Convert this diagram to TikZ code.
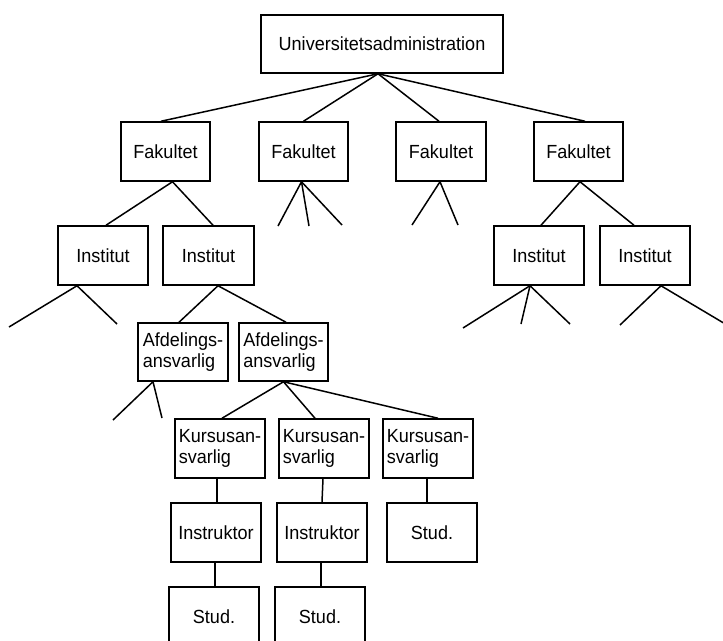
\documentclass[tikz,border=0pt]{standalone}
\usepackage{fontspec}
\setmainfont{Liberation Sans}[FakeStretch=0.95]
\begin{document}
\begin{tikzpicture}[x=1pt,y=-1pt,
  box/.style={draw=black, line width=1.5pt, minimum width=90pt, minimum height=59pt,
    inner sep=0pt, font=\fontsize{19}{21}\selectfont, align=left},
  conn/.style={draw=black, line width=1.5pt}]
\useasboundingbox (0,0) rectangle (723,640);
% nodes
\node[box, minimum width=242pt, minimum height=58pt] (U) at (382,44) {Universitetsadministration};
\node[box, minimum width=89pt] (F1) at (165.5,151.5) {Fakultet};
\node[box, minimum width=89pt] (F2) at (303.5,151.5) {Fakultet};
\node[box] (F3) at (441,151.5) {Fakultet};
\node[box, minimum width=89pt] (F4) at (578.5,151.5) {Fakultet};
\node[box] (I1) at (103,255.5) {Institut};
\node[box, minimum width=91pt] (I2) at (208.5,255.5) {Institut};
\node[box] (I3) at (539,255.5) {Institut};
\node[box] (I4) at (645,255.5) {Institut};
\node[box, minimum height=58pt] (A1) at (183,352) {Afdelings-\\ansvarlig};
\node[box, minimum width=89pt, minimum height=58pt] (A2) at (283.5,352) {Afdelings-\\ansvarlig};
\node[box] (K1) at (220,448.5) {Kursusan-\\svarlig};
\node[box] (K2) at (324,448.5) {Kursusan-\\svarlig};
\node[box] (K3) at (428,448.5) {Kursusan-\\svarlig};
\node[box] (In1) at (216,532.5) {Instruktor};
\node[box] (In2) at (322,532.5) {Instruktor};
\node[box] (S3) at (432,532.5) {Stud.};
\node[box] (S1) at (214,616.5) {Stud.};
\node[box] (S2) at (320,616.5) {Stud.};
% free ends
\coordinate (f2a) at (278,226);
\coordinate (f2b) at (309,226);
\coordinate (f2c) at (342,225);
\coordinate (f3a) at (412,225);
\coordinate (f3b) at (458,225);
\coordinate (i1a) at (9,327);
\coordinate (i1b) at (117,324);
\coordinate (i3a) at (463,328);
\coordinate (i3b) at (521,324);
\coordinate (i3c) at (570,324);
\coordinate (i4a) at (620,325);
\coordinate (i4b) at (727,325);
\coordinate (a1a) at (113,420);
\coordinate (a1b) at (162,418);
% connectors
\path[conn] ([xshift=-4pt]U.south) -- ([xshift=-4.5pt]F1.north);
\path[conn] ([xshift=-4pt]U.south) -- (F2.north);
\path[conn] ([xshift=-4pt]U.south) -- ([xshift=-2pt]F3.north);
\path[conn] ([xshift=-4pt]U.south) -- ([xshift=6.5pt]F4.north);
\path[conn] ([xshift=7pt]F1.south) -- ([xshift=3pt]I1.north);
\path[conn] ([xshift=7pt]F1.south) -- ([xshift=4.5pt]I2.north);
\path[conn] ([xshift=-2pt]F2.south) -- (f2a);
\path[conn] ([xshift=-2pt]F2.south) -- (f2b);
\path[conn] ([xshift=-2pt]F2.south) -- (f2c);
\path[conn] ([xshift=-1pt]F3.south) -- (f3a);
\path[conn] ([xshift=-1pt]F3.south) -- (f3b);
\path[conn] ([xshift=1.5pt]F4.south) -- ([xshift=2pt]I3.north);
\path[conn] ([xshift=1.5pt]F4.south) -- ([xshift=-11pt]I4.north);
\path[conn] ([xshift=-26pt]I1.south) -- (i1a);
\path[conn] ([xshift=-26pt]I1.south) -- (i1b);
\path[conn] ([xshift=9.5pt]I2.south) -- ([xshift=-4pt]A1.north);
\path[conn] ([xshift=9.5pt]I2.south) -- ([xshift=2.5pt]A2.north);
\path[conn] ([xshift=-9pt]I3.south) -- (i3a);
\path[conn] ([xshift=-9pt]I3.south) -- (i3b);
\path[conn] ([xshift=-9pt]I3.south) -- (i3c);
\path[conn] ([xshift=16pt]I4.south) -- (i4a);
\path[conn] ([xshift=16pt]I4.south) -- (i4b);
\path[conn] ([xshift=-30pt]A1.south) -- (a1a);
\path[conn] ([xshift=-30pt]A1.south) -- (a1b);
\path[conn] (A2.south) -- ([xshift=2pt]K1.north);
\path[conn] (A2.south) -- ([xshift=-9pt]K2.north);
\path[conn] (A2.south) -- ([xshift=10pt]K3.north);
\path[conn] ([xshift=-3pt]K1.south) -- ([xshift=1pt]In1.north);
\path[conn] ([xshift=-1pt]K2.south) -- ([xshift=0pt]In2.north);
\path[conn] ([xshift=-1pt]K3.south) -- ([xshift=-5pt]S3.north);
\path[conn] ([xshift=-1pt]In1.south) -- ([xshift=1pt]S1.north);
\path[conn] ([xshift=-1pt]In2.south) -- ([xshift=1pt]S2.north);
\end{tikzpicture}
\end{document}
